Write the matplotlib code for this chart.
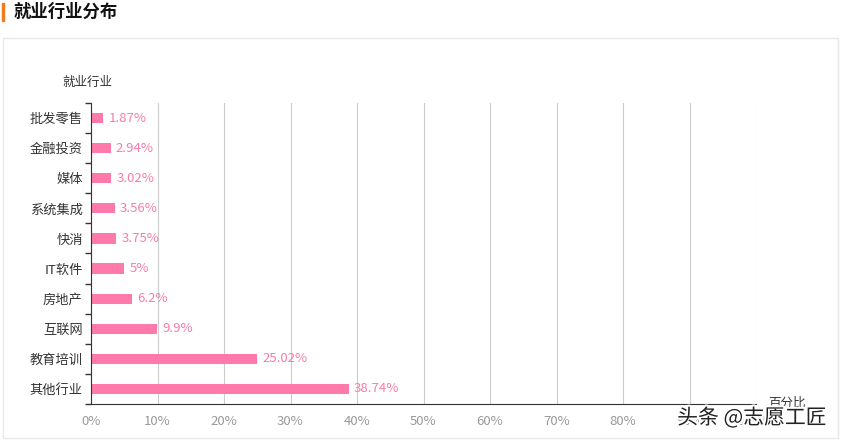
import matplotlib.pyplot as plt
import matplotlib.patheffects as pe
import numpy as np
from matplotlib.patches import Rectangle

plt.rcParams['font.family'] = ['Noto Sans CJK SC', 'DejaVu Sans']

# data (top to bottom as shown)
industries = ['批发零售', '金融投资', '媒体', '系统集成', '快消', 'IT软件', '房地产', '互联网', '教育培训', '其他行业']
shares = [1.87, 2.94, 3.02, 3.56, 3.75, 5, 6.2, 9.9, 25.02, 38.74]
share_labels = ['1.87%', '2.94%', '3.02%', '3.56%', '3.75%', '5%', '6.2%', '9.9%', '25.02%', '38.74%']
x_ticks = [0, 10, 20, 30, 40, 50, 60, 70, 80, 90, 100]

W, H = 842, 441
fig = plt.figure(figsize=(W / 100, H / 100), dpi=100)

# title + orange marker
fig.patches.append(Rectangle((2 / W, 1 - 21 / H), 2 / W, 18 / H, transform=fig.transFigure,
                             color='#f07a1c', zorder=5))
fig.text(14 / W, 1 - 12 / H, '就业行业分布', fontsize=12.5, fontweight='bold', va='center', ha='left',
         color='#111111')

# panel frame
fig.patches.append(Rectangle((3 / W, 1 - 438 / H), 835 / W, 400 / H, transform=fig.transFigure,
                             fill=False, edgecolor='#e8e8e8', lw=1))

ax = fig.add_axes([91 / W, 1 - 404 / H, (756 - 91) / W, (404 - 103) / H])
y = np.arange(len(industries))
ax.barh(y, shares, height=0.34, color='#ff79aa')
for yi, v, lab in zip(y, shares, share_labels):
    ax.text(v + 0.8, yi, lab, va='center', ha='left', fontsize=9.5, color='#f77cab')

ax.set_ylim(len(industries) - 0.5, -0.5)
ax.set_xlim(0, 100)
ax.set_yticks(y)
ax.set_yticklabels(industries, fontsize=9.5, color='#333333')
ax.set_yticks(np.arange(-0.5, len(industries), 1), minor=True)
ax.tick_params(axis='y', which='major', length=0, pad=6)
ax.tick_params(axis='y', which='minor', length=4, color='#333333', width=1)
ax.set_xticks(x_ticks)
ax.set_xticklabels([f'{t}%' for t in x_ticks], fontsize=9.5, color='#999999')
ax.tick_params(axis='x', length=0, pad=8)
ax.grid(axis='x', color='#cccccc', lw=0.8)
ax.set_axisbelow(True)
for s in ['top', 'right']:
    ax.spines[s].set_visible(False)
ax.spines['left'].set_color('#333333')
ax.spines['bottom'].set_color('#333333')

fig.text(87 / W, 1 - 82 / H, '就业行业', fontsize=9, ha='center', va='center', color='#333333')
fig.text(787 / W, 1 - 403 / H, '百分比', fontsize=9, ha='center', va='center', color='#333333')

# watermark
fig.text(752 / W, 1 - 418 / H, '头条 @志愿工匠', fontsize=15, ha='center', va='center', color='#222222',
         path_effects=[pe.withStroke(linewidth=3, foreground='white')], zorder=10)

fig.savefig('out.png', dpi=100)
